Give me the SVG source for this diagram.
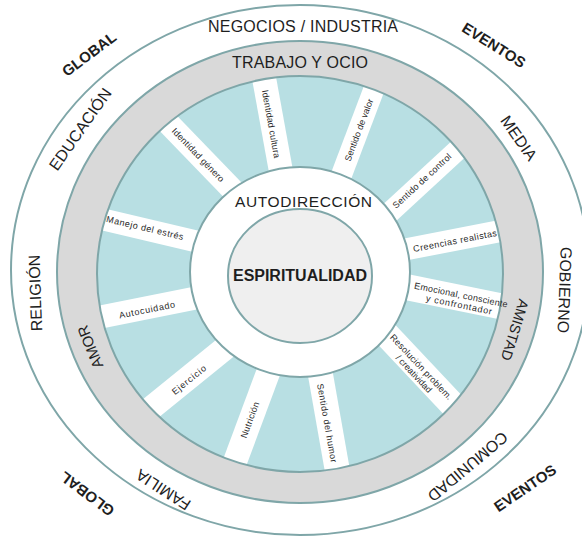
<svg xmlns="http://www.w3.org/2000/svg" width="582" height="539" viewBox="0 0 582 539">
<style>
.ring{stroke:#7fa6a8;stroke-width:2}
.t{font-family:"Liberation Sans",Arial,sans-serif;fill:#1e1e1e;text-anchor:middle}
.big{font-size:16px}
.bold{font-weight:bold}
.s{font-size:9px;fill:#2a2a2a}
.bar{fill:#ffffff}
</style>
<defs>
<clipPath id="tealClip"><ellipse cx="300" cy="274" rx="203" ry="198"/></clipPath>
</defs>
<rect width="582" height="539" fill="#ffffff"/>
<g id="outer-ring">
<ellipse class="ring" cx="300" cy="270" rx="289" ry="265" fill="#ffffff"/>
</g>
<g id="gray-band">
<ellipse class="ring" cx="300" cy="272" rx="243" ry="231" fill="#d9d9d9"/>
</g>
<g id="teal-ring">
<ellipse cx="300" cy="274" rx="203" ry="198" fill="#b8dfe3"/>
<g clip-path="url(#tealClip)">
<rect class="bar" x="-80" y="-12" width="160" height="24" transform="translate(272,122) rotate(79.7)"/>
<rect class="bar" x="-80" y="-10.5" width="160" height="21" transform="translate(360,126) rotate(-69.3)"/>
<rect class="bar" x="-80" y="-11.5" width="160" height="23" transform="translate(198,154) rotate(46)"/>
<rect class="bar" x="-80" y="-10.5" width="160" height="21" transform="translate(425,180) rotate(-42.7)"/>
<rect class="bar" x="-80" y="-11" width="160" height="22" transform="translate(148,230) rotate(13.3)"/>
<rect class="bar" x="-80" y="-11" width="160" height="22" transform="translate(454,240) rotate(-11)"/>
<rect class="bar" x="-80" y="-13" width="160" height="26" transform="translate(455,297) rotate(11.6)"/>
<rect class="bar" x="-80" y="-11.5" width="160" height="23" transform="translate(146,308) rotate(-11.3)"/>
<rect class="bar" x="-80" y="-12" width="160" height="24" transform="translate(187,379) rotate(-39)"/>
<rect class="bar" x="-80" y="-12" width="160" height="24" transform="translate(252,416) rotate(-69.6)"/>
<rect class="bar" x="-80" y="-12.5" width="160" height="25" transform="translate(329,423) rotate(80)"/>
<rect class="bar" x="-80" y="-13" width="160" height="26" transform="translate(418,368) rotate(46.7)"/>
</g>
<ellipse class="ring" cx="300" cy="274" rx="203" ry="198" fill="none"/>
</g>
<g id="autodireccion">
<ellipse class="ring" cx="300" cy="272" rx="110" ry="105" fill="#ffffff"/>
<text class="t" x="303.5" y="207" font-size="15.5" textLength="137">AUTODIRECCIÓN</text>
</g>
<g id="espiritualidad">
<ellipse class="ring" cx="300" cy="276" rx="72" ry="67" fill="#efefef"/>
<text class="t bold" x="300" y="281" font-size="16" textLength="134">ESPIRITUALIDAD</text>
</g>
<g id="bar-labels">
<g id="identidad-cultura"><text class="t s" transform="translate(271,124) rotate(79.7)" y="3" textLength="69">Identidad cultura</text></g>
<g id="sentido-valor"><text class="t s" transform="translate(359,130) rotate(-69.3)" y="3" textLength="66">Sentido de valor</text></g>
<g id="identidad-genero"><text class="t s" transform="translate(198,155) rotate(46)" y="3" textLength="71">Identidad género</text></g>
<g id="sentido-control"><text class="t s" transform="translate(422,181) rotate(-42.7)" y="3" textLength="76">Sentido de control</text></g>
<g id="manejo-estres"><text class="t s" transform="translate(145,228) rotate(13.3)" y="3" textLength="79">Manejo del estrés</text></g>
<g id="creencias-realistas"><text class="t s" transform="translate(455,241) rotate(-11)" y="3" textLength="85">Creencias realistas</text></g>
<g id="emocional"><g transform="translate(460,300) rotate(11.6)">
<text class="t s" y="-2" textLength="95">Emocional, consciente</text>
<text class="t s" y="8" textLength="67">y confrontador</text></g></g>
<g id="autocuidado"><text class="t s" transform="translate(147,310) rotate(-11.3)" y="3" textLength="57">Autocuidado</text></g>
<g id="ejercicio"><text class="t s" transform="translate(189,380) rotate(-39)" y="3" textLength="41">Ejercicio</text></g>
<g id="nutricion"><text class="t s" transform="translate(250,420) rotate(-69.6)" y="3" textLength="38">Nutrición</text></g>
<g id="sentido-humor"><text class="t s" transform="translate(327,423) rotate(80)" y="3" textLength="80">Sentido del humor</text></g>
<g id="resolucion"><g transform="translate(417.5,370.5) rotate(46.7)">
<text class="t s" y="-2" textLength="86">Resolución problem.</text>
<text class="t s" y="8" textLength="48">/ creatividad</text></g></g>
</g>
<g id="gray-band-labels">
<text class="t big" x="300" y="68" textLength="136">TRABAJO Y OCIO</text>
<text class="t" font-size="15" transform="translate(90,347) rotate(-112)" y="5.4">AMOR</text>
<text class="t" font-size="14.5" transform="translate(515,330) rotate(107)" y="5.2">AMISTAD</text>
</g>
<g id="outer-ring-labels">
<text class="t big" x="303" y="31.8" textLength="190">NEGOCIOS / INDUSTRIA</text>
<text class="t big" transform="translate(80,129) rotate(-55)" y="5.8">EDUCACIÓN</text>
<text class="t big" transform="translate(35,293) rotate(-92)" y="5.8">RELIGIÓN</text>
<text class="t big" transform="translate(565,290) rotate(92)" y="5.8">GOBIERNO</text>
<text class="t big" transform="translate(519,138) rotate(55)" y="5.8">MEDIA</text>
<text class="t big" transform="translate(163,490) rotate(-147)" y="5.8">FAMILIA</text>
<text class="t big" transform="translate(468,467) rotate(140)" y="5.8">COMUNIDAD</text>
</g>
<g id="outside-labels">
<text class="t bold" font-size="15" transform="translate(89,54) rotate(-37)" y="5.4">GLOBAL</text>
<text class="t bold" font-size="15" transform="translate(494,45) rotate(32)" y="5.4">EVENTOS</text>
<text class="t bold" font-size="15" transform="translate(525,488) rotate(-34)" y="5.4">EVENTOS</text>
<text class="t bold" font-size="15" transform="translate(87,494) rotate(-143)" y="5.4">GLOBAL</text>
</g>
</svg>
